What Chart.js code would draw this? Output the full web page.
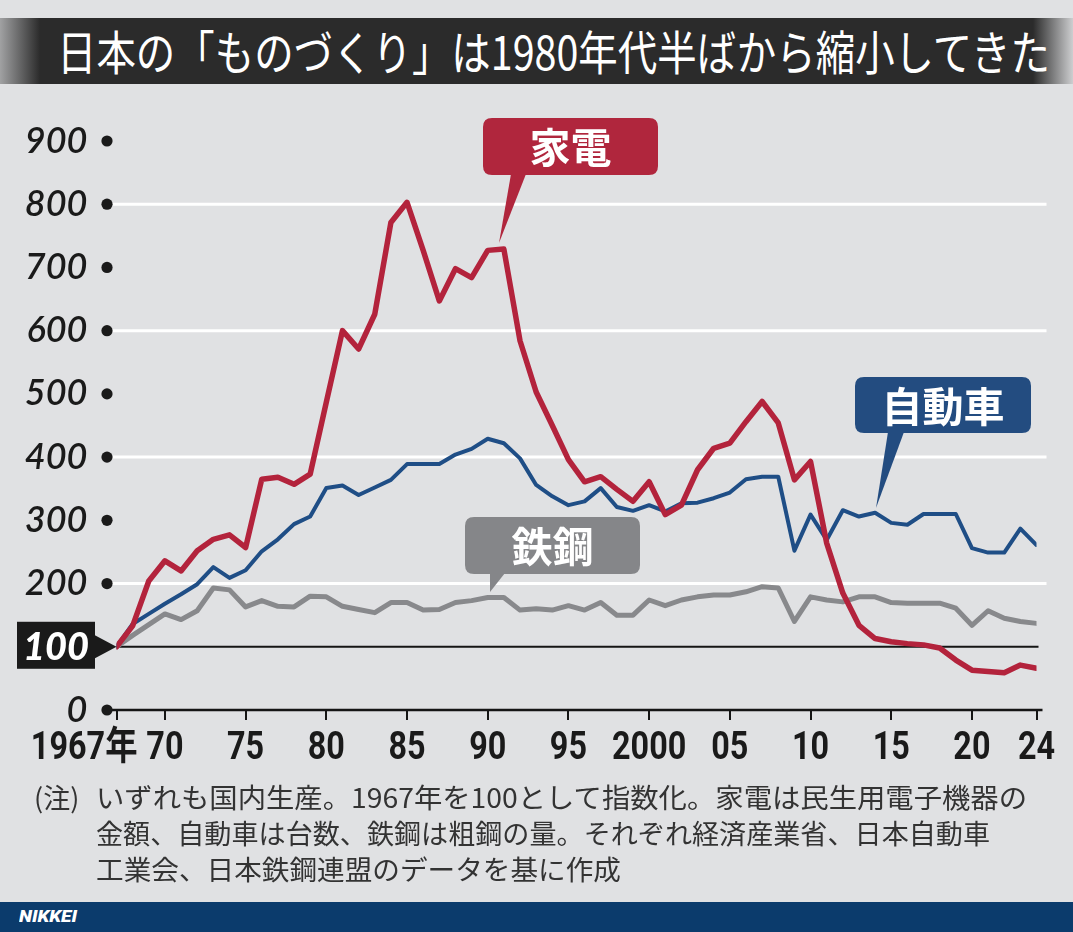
<!DOCTYPE html>
<html><head><meta charset="utf-8">
<script src="https://cdn.jsdelivr.net/npm/chart.js@4.4.1/dist/chart.umd.min.js"></script>
<style>
html,body{margin:0;padding:0;}
body{width:1073px;height:932px;background:#e0e1e3;position:relative;overflow:hidden;font-family:'Noto Sans CJK JP',sans-serif;}
#titlebar{position:absolute;left:0;top:18px;width:1073px;height:66px;background:linear-gradient(to right,rgba(43,43,43,0.35) 0px,#2b2b2b 40px,#2b2b2b 1033px,rgba(43,43,43,0.1) 1073px);}
#title{position:absolute;left:57px;top:26px;color:#fff;font-size:47px;line-height:47px;white-space:nowrap;transform-origin:left top;font-weight:400;}
canvas{position:absolute;left:0;top:0;}
.note{position:absolute;color:#333;font-size:27px;line-height:27px;white-space:nowrap;transform-origin:left top;}
#footer{position:absolute;left:0;top:902px;width:1073px;height:30px;background:#0b3b6c;}
#nikkei{position:absolute;left:19px;top:906px;color:#fff;font-family:Roboto,sans-serif;font-weight:900;font-style:italic;font-size:17px;line-height:20px;transform-origin:left top;white-space:nowrap;}
</style></head>
<body>
<div id="titlebar"></div>
<div id="title" data-w="993">日本の「ものづくり」は1980年代半ばから縮小してきた</div>
<canvas id="c" width="1073" height="932" style="width:1073px;height:932px"></canvas>
<div class="note" style="left:34px;top:783px">(注)</div>
<div class="note" style="left:96px;top:783px" data-w="931">いずれも国内生産。1967年を100として指数化。家電は民生用電子機器の</div>
<div class="note" style="left:96px;top:819px" data-w="894">金額、自動車は台数、鉄鋼は粗鋼の量。それぞれ経済産業省、日本自動車</div>
<div class="note" style="left:96px;top:855px" data-w="525">工業会、日本鉄鋼連盟のデータを基に作成</div>
<div id="footer"></div>
<div id="nikkei" data-w="58">NIKKEI</div>
<script>
const years = [1967,1968,1969,1970,1971,1972,1973,1974,1975,1976,1977,1978,1979,1980,1981,1982,1983,1984,1985,1986,1987,1988,1989,1990,1991,1992,1993,1994,1995,1996,1997,1998,1999,2000,2001,2002,2003,2004,2005,2006,2007,2008,2009,2010,2011,2012,2013,2014,2015,2016,2017,2018,2019,2020,2021,2022,2023,2024];
const kaden = [100,133,204,236,220,252,270,277,257,365,368,357,373,487,600,571,626,771,803,727,647,698,684,727,729,584,503,450,396,361,369,349,330,361,309,324,380,414,422,456,488,454,364,393,264,185,134,113,108,105,103,98,79,63,61,59,71,66];
const jidosha = [100,136,152,168,183,199,226,209,221,251,270,294,306,351,355,340,352,364,389,389,389,404,413,429,422,398,356,338,324,330,351,321,315,324,314,327,328,335,344,365,369,369,252,309,269,316,306,312,296,293,310,310,310,256,249,249,287,261];
const tekko = [100,118,135,152,143,157,193,190,163,173,164,163,180,179,164,159,154,170,170,158,159,170,173,178,178,158,160,158,165,158,170,150,150,174,165,174,179,182,182,187,195,193,140,179,174,171,179,179,170,169,169,169,161,134,157,145,140,137];
const seriesNames = ['家電','自動車','鉄鋼'];
const xTickYears = [1967,1970,1975,1980,1985,1990,1995,2000,2005,2010,2015,2020,2024];
const xTickLabels = ['1967年','70','75','80','85','90','95','2000','05','10','15','20','24'];
const yTicks = [0,100,200,300,400,500,600,700,800,900];
const gridValues = [200,400,600,800];
const baseValue = 100;

const RED='#b3233c', BLUE='#1f4e86', GRAY='#88898c';

document.querySelectorAll('[data-w]').forEach(el=>{
  const w = el.getBoundingClientRect().width;
  const t = parseFloat(el.dataset.w);
  el.style.transform = 'scaleX(' + (t/w) + ')';
});

function roundRect(ctx,x,y,w,h,r){
  ctx.beginPath();
  ctx.moveTo(x+r,y);ctx.lineTo(x+w-r,y);ctx.quadraticCurveTo(x+w,y,x+w,y+r);
  ctx.lineTo(x+w,y+h-r);ctx.quadraticCurveTo(x+w,y+h,x+w-r,y+h);
  ctx.lineTo(x+r,y+h);ctx.quadraticCurveTo(x,y+h,x,y+h-r);
  ctx.lineTo(x,y+r);ctx.quadraticCurveTo(x,y,x+r,y);ctx.closePath();
}
function callout(ctx,b,color,text,p){
  ctx.fillStyle=color;
  roundRect(ctx,b.x,b.y,b.w,b.h,9);ctx.fill();
  ctx.beginPath();ctx.moveTo(p[0],b.y+b.h-1);ctx.lineTo(p[1],b.y+b.h-1);ctx.lineTo(p[2],p[3]);ctx.closePath();ctx.fill();
  ctx.fillStyle='#fff';
  ctx.font='bold 41px "Noto Sans CJK JP"';
  ctx.textAlign='center';ctx.textBaseline='alphabetic';
  ctx.fillText(text,b.x+b.w/2,b.y+b.h/2+1+0.38*41);
}

const decor = {
  id:'decor',
  beforeDatasetsDraw(chart){
    const ctx=chart.ctx, x=chart.scales.x, y=chart.scales.y;
    ctx.save();
    ctx.strokeStyle='#ffffff';ctx.lineWidth=3;
    gridValues.forEach(v=>{const py=y.getPixelForValue(v);ctx.beginPath();ctx.moveTo(x.left-5,py);ctx.lineTo(x.right+10,py);ctx.stroke();});
    ctx.strokeStyle='#151515';ctx.lineWidth=2;
    const pb=y.getPixelForValue(baseValue);
    ctx.beginPath();ctx.moveTo(x.left,pb);ctx.lineTo(x.right+2,pb);ctx.stroke();
    const p0=y.getPixelForValue(0);
    ctx.lineWidth=2.5;ctx.beginPath();ctx.moveTo(x.left-9,p0);ctx.lineTo(x.right+6,p0);ctx.stroke();
    ctx.restore();
  },
  afterDraw(chart){
    const ctx=chart.ctx, x=chart.scales.x, y=chart.scales.y;
    ctx.save();
    ctx.fillStyle='#1a1a1a';
    yTicks.forEach(v=>{ if(v===baseValue) return; const py=y.getPixelForValue(v); ctx.beginPath();ctx.arc(x.left-9.5,py,5.6,0,Math.PI*2);ctx.fill();});
    const pb=y.getPixelForValue(baseValue);
    ctx.fillStyle='#1a1a1a';
    ctx.fillRect(17,pb-25,78,47);
    ctx.beginPath();ctx.moveTo(94,pb-12);ctx.lineTo(x.left,pb);ctx.lineTo(94,pb+12);ctx.closePath();ctx.fill();
    ctx.fillStyle='#fff';ctx.font='italic 900 38px Lato';ctx.textAlign='center';ctx.textBaseline='middle';
    ctx.fillText(String(baseValue),56,pb+1);
    ctx.fillStyle='#1a1a1a';
    ctx.font='bold 39px Roboto, "Noto Sans CJK JP"';ctx.textBaseline='alphabetic';
    xTickYears.forEach((v,i)=>{
      const px=x.getPixelForValue(v);
      ctx.save();
      if(i===0){ctx.translate(px+21,759);ctx.textAlign='right';}
      else {ctx.translate(px,759);ctx.textAlign='center';}
      ctx.scale(0.83,1);
      ctx.fillText(xTickLabels[i],0,0);
      ctx.restore();
    });
    callout(ctx,{x:483,y:118,w:175,h:57},'#b0263d',seriesNames[0],[511,526,499,243]);
    callout(ctx,{x:855,y:377,w:176,h:56},'#234c80',seriesNames[1],[888,904,876,508]);
    callout(ctx,{x:465,y:517,w:175,h:57},'#858689',seriesNames[2],[490,505,490,592]);
    ctx.restore();
  }
};

const mk=(arr)=>years.map((yr,i)=>({x:yr,y:arr[i]}));
new Chart(document.getElementById('c'),{
  type:'line',
  data:{datasets:[
    {label:seriesNames[0],data:mk(kaden),borderColor:RED,borderWidth:5.5,pointRadius:0,tension:0,borderJoinStyle:'round',borderCapStyle:'round'},
    {label:seriesNames[1],data:mk(jidosha),borderColor:BLUE,borderWidth:4,pointRadius:0,tension:0,borderJoinStyle:'round',borderCapStyle:'round'},
    {label:seriesNames[2],data:mk(tekko),borderColor:GRAY,borderWidth:5,pointRadius:0,tension:0,borderJoinStyle:'round',borderCapStyle:'round'}
  ]},
  options:{
    responsive:false,animation:false,
    layout:{padding:{left:0,top:141,right:36.5,bottom:162}},
    plugins:{legend:{display:false},tooltip:{enabled:false}},
    scales:{
      x:{type:'linear',min:1967,max:2024,
        afterBuildTicks:(s)=>{s.ticks=xTickYears.map(v=>({value:v}));},
        afterFit:(s)=>{s.height=60;},
        ticks:{display:false},
        grid:{display:true,drawOnChartArea:false,drawTicks:true,tickLength:10,color:'#151515',lineWidth:2},
        border:{display:false}},
      y:{min:0,max:900,
        afterBuildTicks:(s)=>{s.ticks=yTicks.map(v=>({value:v}));},
        afterFit:(s)=>{s.width=116.5;},
        ticks:{padding:29,color:'#1a1a1a',font:{family:'Lato',style:'italic',weight:'600',size:36},callback:(v)=>v===baseValue?'':String(v)},
        grid:{display:false,drawTicks:false},
        border:{display:false}}
    }
  },
  plugins:[decor]
});
</script>
</body></html>
